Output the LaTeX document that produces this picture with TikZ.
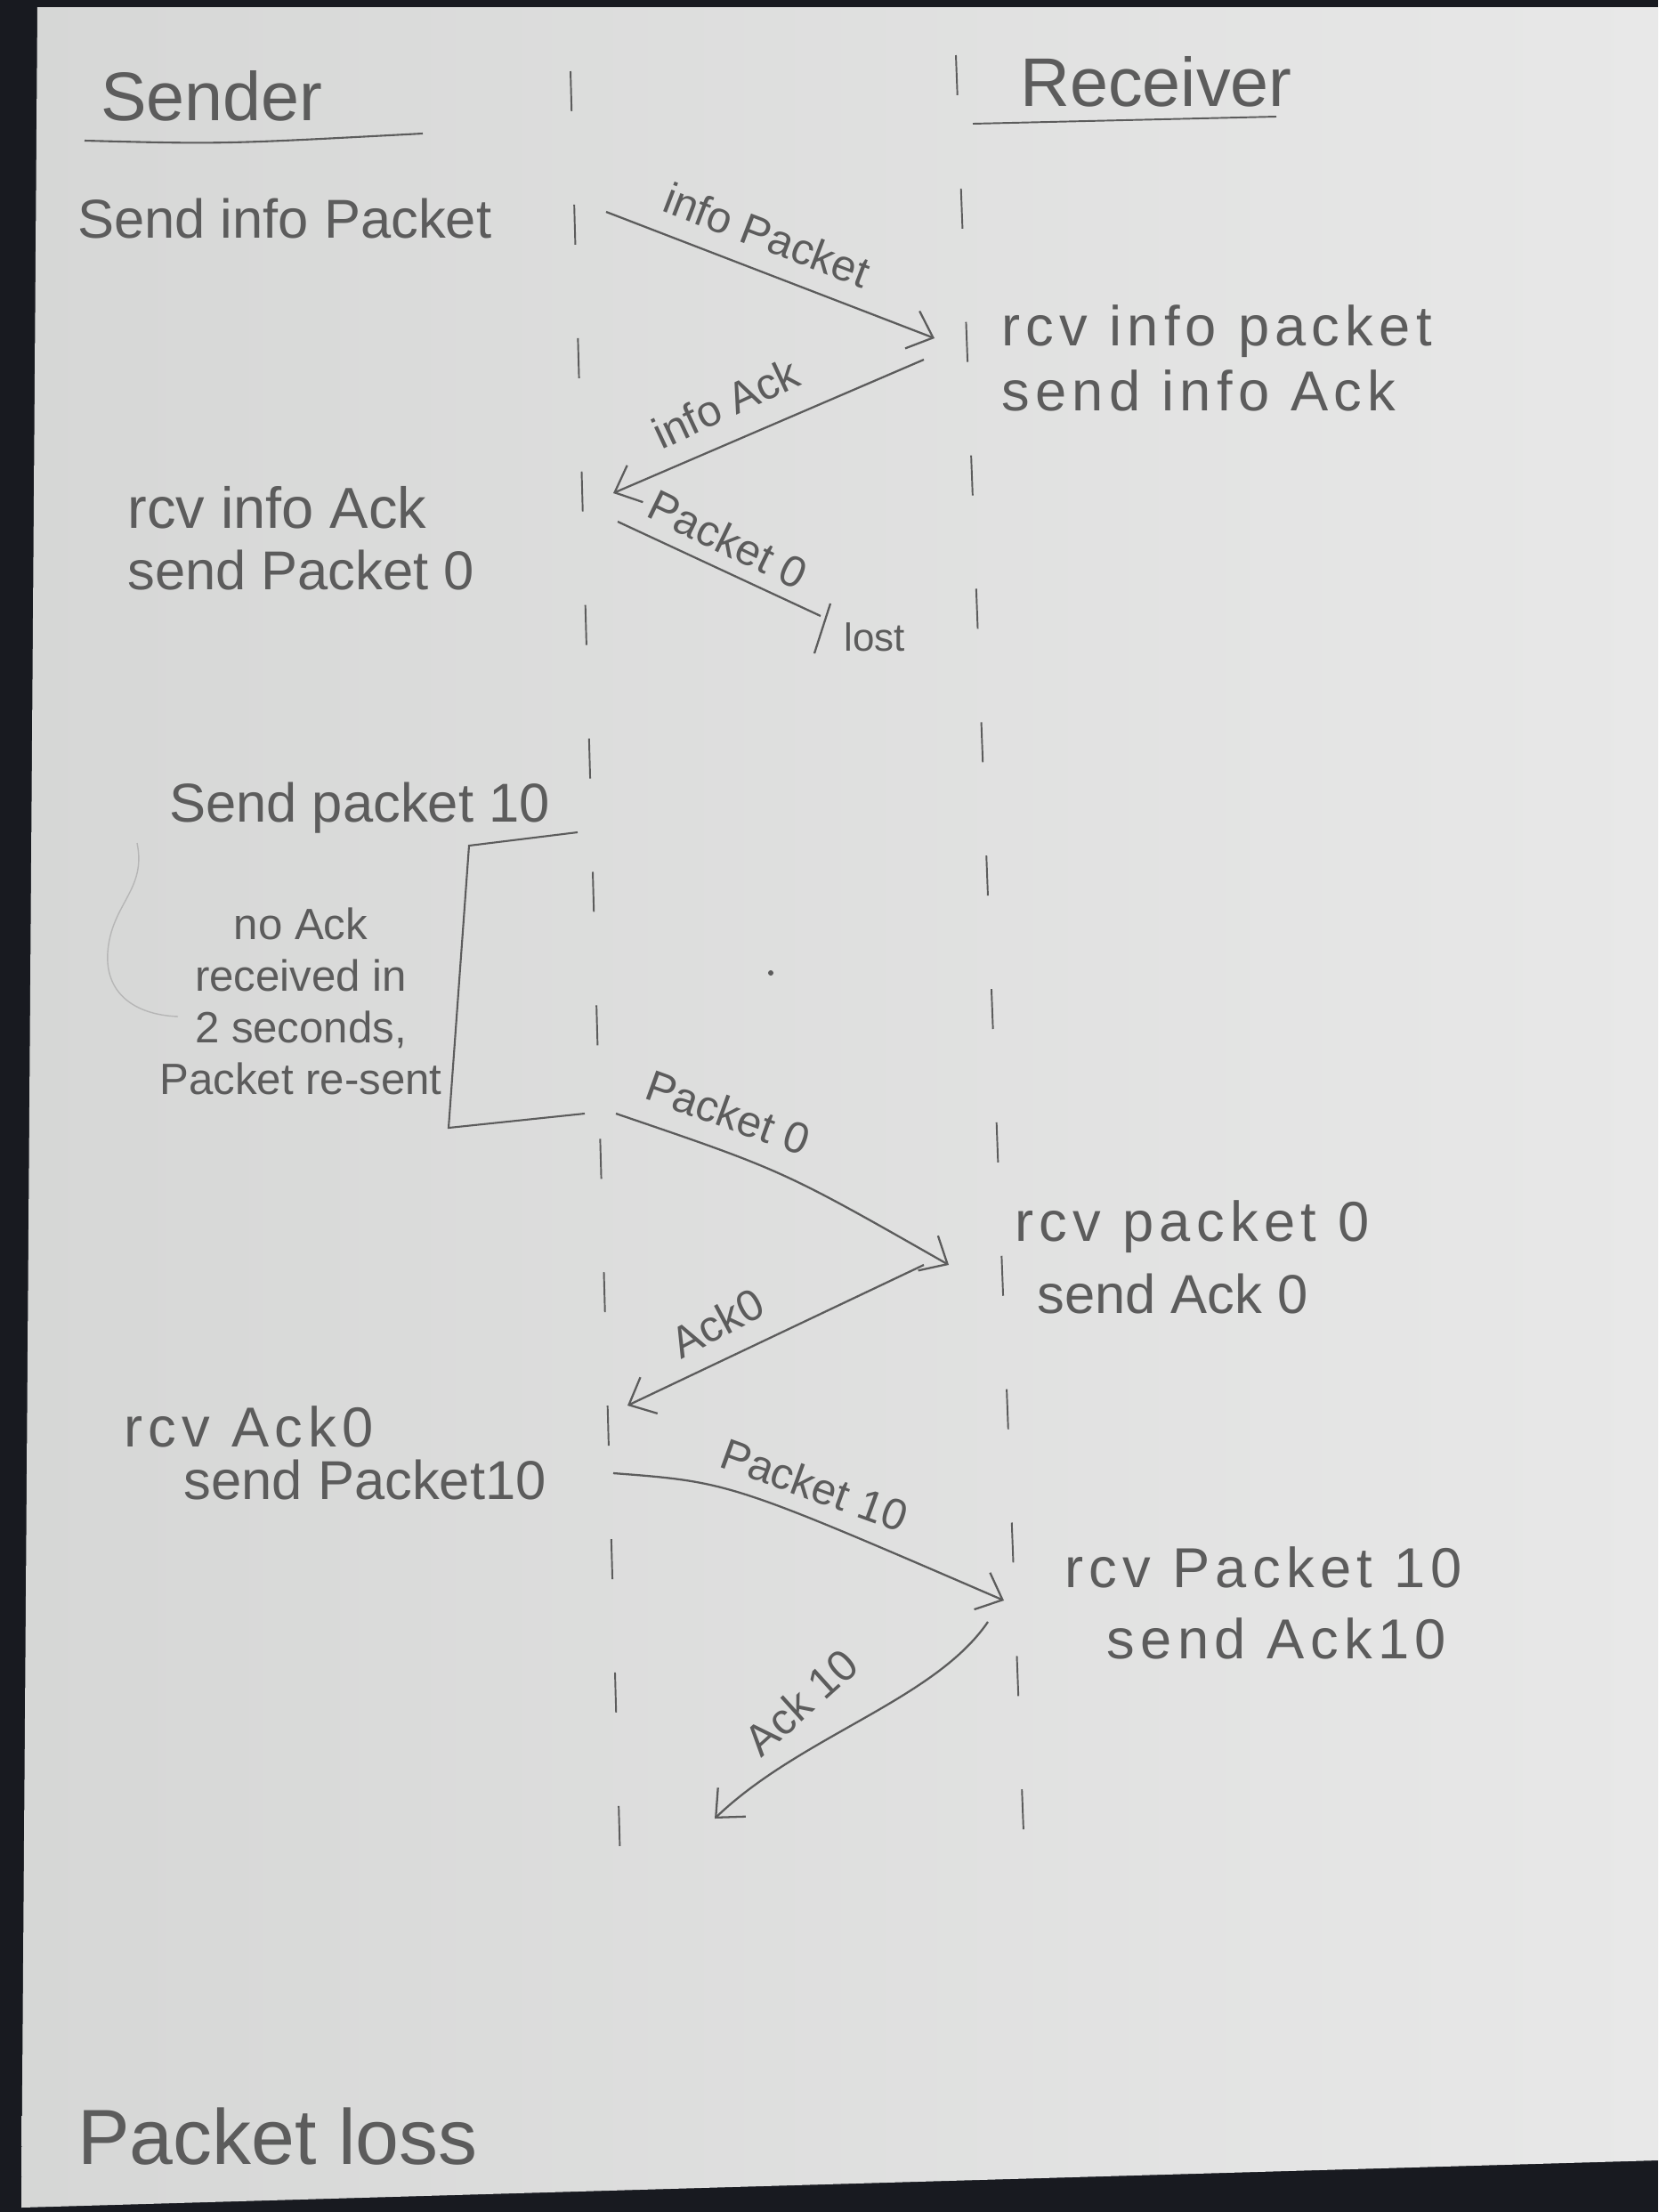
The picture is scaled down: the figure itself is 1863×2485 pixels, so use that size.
\documentclass[tikz,border=0pt]{standalone}
\usepackage{fontspec}
\setmainfont{Liberation Sans}
\usepackage{tikz}
\usetikzlibrary{positioning,arrows.meta}

\definecolor{pencil}{RGB}{92,92,92}
\definecolor{paperL}{RGB}{214,215,214}
\definecolor{paperR}{RGB}{232,232,232}
\definecolor{desk}{RGB}{24,26,32}

\tikzset{
  hand/.style={text=pencil, inner sep=0pt, font=\fontsize{35}{38}\selectfont},
  wide/.style={hand, font=\fontsize{36}{40}\selectfont\addfontfeature{LetterSpace=10}},
  title/.style={hand, font=\fontsize{44}{48}\selectfont},
  msglabel/.style={hand, font=\fontsize{28}{30}\selectfont},
  lifeline/.style={draw=pencil, line width=1.1pt, dash pattern=on 0.9cm off 2.1cm},
  msg/.style={draw=pencil, line width=1.3pt, -{Straight Barb[length=5mm,width=9mm]}},
}

\begin{document}
\begin{tikzpicture}[x=0.02cm,y=0.02cm,yscale=-1,xscale=1]
\useasboundingbox (0,0) rectangle (1863,2485);

%Shape: desk and sheet
\fill[desk] (0,0) rectangle (1863,2485);
\shade[left color=paperL, right color=paperR] (42,8) -- (1863,8) -- (1863,2427) -- (24,2480) -- cycle;

% Lifelines
\coordinate (sTop) at (641,80);
\coordinate (sBot) at (697,2095);
\coordinate (rTop) at (1074,62);
\coordinate (rBot) at (1152,2110);
\draw[lifeline] (sTop) -- (sBot);
\draw[lifeline] (rTop) -- (rBot);

% Text Node
\node[title] (sender) at (238,108) {Sender};
\draw[pencil, line width=1.2pt] (95,158) .. controls (250,162) .. (475,150);
% Text Node
\node[title] (receiver) at (1299,92) {Receiver};
\draw[pencil, line width=1.1pt] (1093,139) -- (1434,131);

% Text Node
\node[hand, anchor=west] (sendinfo) at (87,246) {Send info Packet};
% Text Node
\node[wide, anchor=west] (rcvinfo) at (1125,372) {rcv info packet};
\node[wide, below=1.34cm of rcvinfo.west, anchor=west] (sendinfoack) {send info Ack};
% Text Node
\node[hand, font=\fontsize{37}{40}\selectfont, anchor=west] (rcvinfoack) at (143,570) {rcv info Ack};
\node[hand, below=1.42cm of rcvinfoack.west, anchor=west] (sendpkt0) {send Packet 0};

% info packet / info ack
\coordinate (m1a) at (681,238);
\coordinate (m1b) at (1050,380);
\coordinate (m2a) at (1038,404);
\coordinate (m2b) at (689,554);
\draw[msg] (m1a) -- (m1b);
\draw[msg] (m2a) -- (m2b);
\node[msglabel, rotate=-21] (lblinfopkt) at (862,264) {info Packet};
\node[msglabel, rotate=25] (lblinfoack) at (815,453) {info Ack};

% lost packet
\coordinate (m3a) at (694,586);
\coordinate (m3b) at (922,692);
\coordinate (lostA) at (933,678);
\coordinate (lostB) at (915,734);
\draw[pencil, line width=1.3pt] (m3a) -- (m3b);
\draw[pencil, line width=1.3pt] (lostA) -- (lostB);
\node[msglabel, rotate=-26] (lblpkt0lost) at (818,606) {Packet 0};
\node[hand, font=\fontsize{25}{27}\selectfont, anchor=west] (lost) at (948,716) {lost};

% Text Node
\node[hand] (sendpkt10) at (404,908) {Send packet 10};
%Shape: timeout bracket
\draw[pencil, line width=1.2pt] (649,935) -- (527,950) -- (504,1267) -- (657,1251);
\draw[pencil!45, line width=0.8pt] (154,947) .. controls (165,1000) and (125,1015) .. (121,1070) .. controls (118,1115) and (150,1140) .. (200,1142);
% Text Node
\node[hand, align=center, font=\fontsize{28}{33}\selectfont] (timeout) at (338,1125) {no Ack\\received in\\2 seconds,\\Packet re-sent};
\fill[pencil] (866,1093) circle (3);

% resent packet 0 / ack 0
\coordinate (m4a) at (692,1251);
\coordinate (m4b) at (1066,1421);
\coordinate (m5a) at (1038,1421);
\coordinate (m5b) at (705,1579);
\draw[msg] (m4a) .. controls (880,1315) .. (m4b);
\draw[msg] (m5a) -- (m5b);
\node[msglabel, rotate=-20] (lblpkt0) at (818,1250) {Packet 0};
\node[msglabel, rotate=28] (lblack0) at (806,1486) {Ack0};
% Text Node
\node[wide, anchor=west] (rcvpkt0) at (1140,1378) {rcv packet 0};
\node[hand, below=1.52cm of rcvpkt0.west, xshift=0.5cm, anchor=west] (sendack0) {send Ack 0};

% Text Node
\node[wide, anchor=west] (rcvack0) at (139,1603) {rcv Ack0};
\node[hand, below=1.2cm of rcvack0.west, xshift=1.35cm, anchor=west] (sendpkt10b) {send Packet10};

% packet 10 / ack 10
\coordinate (m6a) at (689,1655);
\coordinate (m6b) at (1128,1798);
\coordinate (m7a) at (1110,1822);
\coordinate (m7b) at (803,2043);
\draw[msg] (m6a) .. controls (820,1665) .. (m6b);
\draw[msg] (m7a) .. controls (1050,1910) and (900,1950) .. (m7b);
\node[msglabel, rotate=-20] (lblpkt10) at (915,1668) {Packet 10};
\node[msglabel, rotate=42] (lblack10) at (900,1912) {Ack 10};
% Text Node
\node[wide, anchor=west] (rcvpkt10) at (1196,1761) {rcv Packet 10};
\node[wide, below=1.6cm of rcvpkt10.west, xshift=0.95cm, anchor=west] (sendack10) {send Ack10};

% Text Node
\node[title, font=\fontsize{50}{54}\selectfont, anchor=west] (caption) at (87,2400) {Packet loss};

\end{tikzpicture}
\end{document}
